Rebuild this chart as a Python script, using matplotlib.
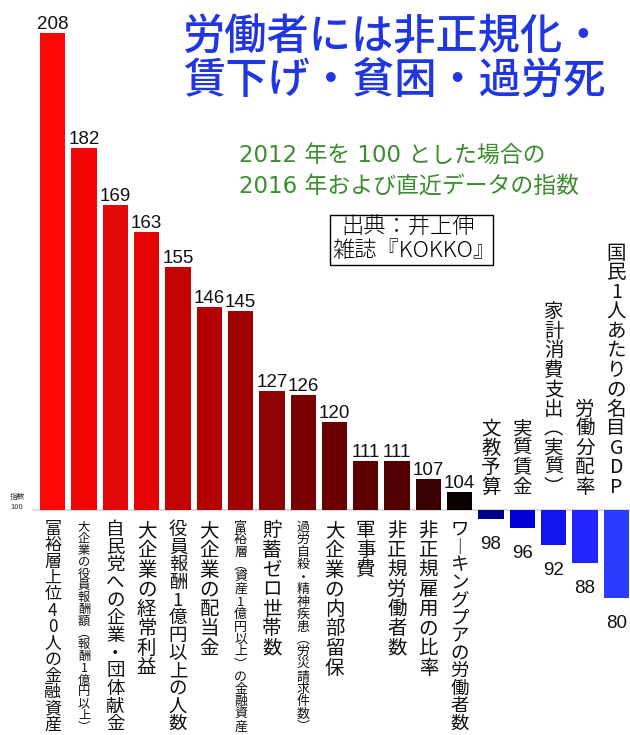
import matplotlib
matplotlib.use('Agg')
import matplotlib.pyplot as plt
from matplotlib.patches import Rectangle

plt.rcParams['font.family'] = ['Noto Sans CJK JP', 'DejaVu Sans']

# 2012年=100 とした指数
labels = ['富裕層上位40人の金融資産', '大企業の役員報酬額（報酬1億円以上）', '自民党への企業・団体献金',
          '大企業の経常利益', '役員報酬1億円以上の人数', '大企業の配当金',
          '富裕層（資産1億円以上）の金融資産', '貯蓄ゼロ世帯数', '過労自殺・精神疾患（労災請求件数）',
          '大企業の内部留保', '軍事費', '非正規労働者数', '非正規雇用の比率',
          'ワーキングプアの労働者数', '文教予算', '実質賃金', '家計消費支出（実質）',
          '労働分配率', '国民1人あたりの名目GDP']
values = [208, 182, 169, 163, 155, 146, 145, 127, 126, 120, 111, 111, 107, 104,
          98, 96, 92, 88, 80]
bar_colors = ['#fc0606', '#f20505', '#e00808', '#e40404', '#c40202', '#b40202', '#a20202',
              '#8e0202', '#780202', '#6a0000', '#5c0000', '#500000', '#380000', '#0a0000',
              '#00008a', '#0000d4', '#1414f0', '#2424ff', '#2c3cff']

# 縦書き用の記号
VERT = {'（': '︵', '）': '︶', 'ー': '︱'}

W, H = 630, 735
fig = plt.figure(figsize=(W / 100, H / 100), dpi=100)
ax = fig.add_axes([0, 0, 1, 1])

px_x = 31.3   # 1本あたりのピクセル
px_y = 4.42   # 指数1あたりのピクセル
x0 = 52.8
y_base = 510
ax.set_xlim(-x0 / px_x, (W - x0) / px_x)
ax.set_ylim(100 - (H - y_base) / px_y, 100 + y_base / px_y)
ax.axis('off')

xs = list(range(len(values)))
ax.plot([-0.62, 18.6], [100, 100], color='#d6d6d6', lw=1.2, zorder=0)
ax.bar(xs, [v - 100 for v in values], bottom=100, width=0.81, color=bar_colors, zorder=2)

num_font = ['Liberation Sans Narrow', 'Liberation Sans', 'DejaVu Sans']


def vtext(x, label, up=False):
    chars = [VERT.get(c, c) for c in label]
    n = len(chars)
    if up:
        pitch = 19.5
    else:
        pitch = min(19.6, 212.0 / n)
    size = min(14, pitch * 0.75)
    for k, ch in enumerate(chars):
        if up:
            dy = 13 + pitch * (n - k - 0.5)
        else:
            dy = -(11 + pitch * (k + 0.5))
        ax.annotate(ch, xy=(x, 100), xycoords='data', xytext=(0, dy),
                    textcoords='offset pixels', ha='center', va='center',
                    fontsize=size, color='#111111')


for i, (lab, v) in enumerate(zip(labels, values)):
    if v >= 100:
        vtext(i, lab)
        ax.annotate(str(v), xy=(i, v), xytext=(0, 4), textcoords='offset pixels',
                    ha='center', va='baseline', fontsize=13.5, family=num_font,
                    color='#111111')
    else:
        vtext(i, lab, up=True)
        ax.annotate(str(v), xy=(i, v), xytext=(0, -17), textcoords='offset pixels',
                    ha='center', va='top', fontsize=13.5, family=num_font,
                    color='#111111')


def ftext(x, y, s, **kw):
    return fig.text(x / W, 1 - y / H, s, **kw)


# タイトル
ftext(183, 37, '労働者には非正規化・', fontsize=30.4, color='#1f36e0',
      ha='left', va='center', fontweight='medium')
ftext(183, 81, '賃下げ・貧困・過労死', fontsize=30.4, color='#1f36e0',
      ha='left', va='center', fontweight='medium')

sub_font = ['DejaVu Sans', 'Noto Sans CJK JP']
ftext(239, 155, '2012 年を 100 とした場合の', fontsize=16.5, color='#3c8c30',
      ha='left', va='center', family=sub_font)
ftext(239, 187, '2016 年および直近データの指数', fontsize=16.5, color='#3c8c30',
      ha='left', va='center', family=sub_font)

# 出典
fig.patches.append(Rectangle((330 / W, 1 - 265 / H), 163 / W, 50 / H,
                             transform=fig.transFigure, facecolor='white',
                             edgecolor='black', lw=1))
ftext(341, 228, '出典：井上伸', fontsize=16, color='black', ha='left', va='center',
      fontweight='light')
ftext(332, 251, '雑誌『KOKKO』', fontsize=16, color='black', ha='left', va='center',
      fontweight='light')

ftext(17, 497, '指数', fontsize=5.5, color='#333333', ha='center', va='center')
ftext(17, 507, '100', fontsize=5.5, color='#333333', ha='center', va='center')

fig.savefig('out.png', dpi=100, facecolor='white')
